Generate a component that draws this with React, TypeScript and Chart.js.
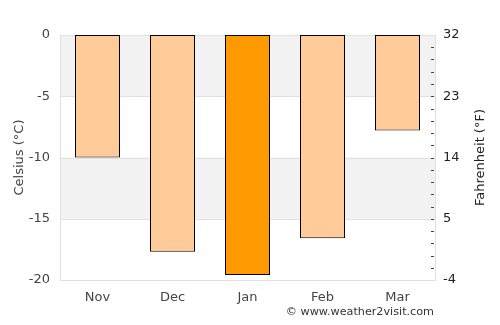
import React, { useEffect, useRef } from "react";
import { Chart, registerables } from "chart.js";

Chart.register(...registerables);

const months = ["Nov", "Dec", "Jan", "Feb", "Mar"];
const celsius = [-10, -17.7, -19.6, -16.6, -7.8];
const barColors = ["#ffcc99", "#ffcc99", "#ff9900", "#ffcc99", "#ffcc99"];
const leftTicks = [0, -5, -10, -15, -20];
const leftTitle = "Celsius (°C)";
const rightTitle = "Fahrenheit (°F)";

const bandPlugin = {
  id: "bands",
  beforeDatasetsDraw(chart: any) {
    const { ctx, chartArea } = chart;
    const y = chart.scales.y;
    ctx.save();
    ctx.fillStyle = "#f2f2f2";
    const bands = [
      [0, -5],
      [-10, -15],
    ];
    for (const [a, b] of bands) {
      const y1 = y.getPixelForValue(a);
      const y2 = y.getPixelForValue(b);
      ctx.fillRect(chartArea.left, y1, chartArea.right - chartArea.left, y2 - y1);
    }
    ctx.strokeStyle = "#e0e0e0";
    ctx.lineWidth = 1;
    for (const v of leftTicks) {
      const py = Math.round(y.getPixelForValue(v)) + 0.5;
      ctx.beginPath();
      ctx.moveTo(chartArea.left, py);
      ctx.lineTo(chartArea.right, py);
      ctx.stroke();
    }
    ctx.strokeRect(
      Math.round(chartArea.left) + 0.5,
      Math.round(chartArea.top) + 0.5,
      Math.round(chartArea.right - chartArea.left),
      Math.round(chartArea.bottom - chartArea.top)
    );
    ctx.restore();
  },
  afterDraw(chart: any) {
    const { ctx, chartArea } = chart;
    const y2 = chart.scales.y2;
    ctx.save();
    // minor ticks on the right axis
    ctx.strokeStyle = "#444444";
    ctx.lineWidth = 1;
    for (let v = -19; v <= -1; v++) {
      const py = Math.round(y2.getPixelForValue(v)) + 0.5;
      ctx.beginPath();
      ctx.moveTo(chartArea.right - 4, py);
      ctx.lineTo(chartArea.right - 1, py);
      ctx.stroke();
    }
    // axis titles
    const cy = (chartArea.top + chartArea.bottom) / 2;
    ctx.font = "13px 'DejaVu Sans'";
    ctx.textAlign = "center";
    ctx.textBaseline = "middle";
    ctx.fillStyle = "#444444";
    ctx.translate(20, cy);
    ctx.rotate(-Math.PI / 2);
    ctx.fillText(leftTitle, 0, 0);
    ctx.setTransform(1, 0, 0, 1, 0, 0);
    ctx.fillStyle = "#222222";
    ctx.translate(481, cy);
    ctx.rotate(-Math.PI / 2);
    ctx.fillText(rightTitle, 0, 0);
    ctx.restore();
  },
};

export default function App() {
  const ref = useRef<HTMLCanvasElement>(null);
  useEffect(() => {
    document.body.style.margin = "0";
    const font = { family: "DejaVu Sans", size: 13 };
    const chart = new Chart(ref.current!, {
      type: "bar",
      data: {
        labels: months,
        datasets: [
          {
            data: celsius,
            backgroundColor: barColors,
            borderColor: "#000000",
            borderWidth: 1,
            borderSkipped: false,
            categoryPercentage: 1,
            barPercentage: 0.6,
          },
        ],
      },
      plugins: [bandPlugin],
      options: {
        animation: false,
        responsive: false,
        maintainAspectRatio: false,
        layout: { padding: { left: 0, right: 0, top: 35, bottom: 0 } },
        plugins: { legend: { display: false }, tooltip: { enabled: false } },
        scales: {
          x: {
            grid: { display: false, drawTicks: false },
            border: { display: false },
            ticks: { color: "#444444", font, padding: 10 },
            afterFit: (s: any) => {
              s.height = 45;
            },
          },
          y: {
            position: "left",
            min: -20,
            max: 0,
            afterBuildTicks: (s: any) => {
              s.ticks = leftTicks.map((v) => ({ value: v }));
            },
            afterFit: (s: any) => {
              s.width = 60;
            },
            grid: { display: false, drawTicks: false },
            border: { display: false },
            ticks: { color: "#444444", font, padding: 10 },
          },
          y2: {
            position: "right",
            min: -20,
            max: 0,
            afterBuildTicks: (s: any) => {
              s.ticks = leftTicks.map((v) => ({ value: v }));
            },
            afterFit: (s: any) => {
              s.width = 65;
            },
            ticks: {
              color: "#222222",
              font,
              padding: 8,
              callback: (v: any) => String(Math.round((Number(v) * 9) / 5 + 32)),
            },
            grid: { display: false, drawTicks: false },
            border: { display: false },
          },
        },
      },
    });
    return () => chart.destroy();
  }, []);
  return (
    <div style={{ position: "relative", width: 500, height: 325 }}>
      <canvas ref={ref} width={500} height={325} />
      <div
        style={{
          position: "absolute",
          right: 66,
          top: 305,
          fontFamily: "DejaVu Sans",
          fontSize: 11.2,
          color: "#333333",
          whiteSpace: "nowrap",
        }}
      >
        © www.weather2visit.com
      </div>
    </div>
  );
}
